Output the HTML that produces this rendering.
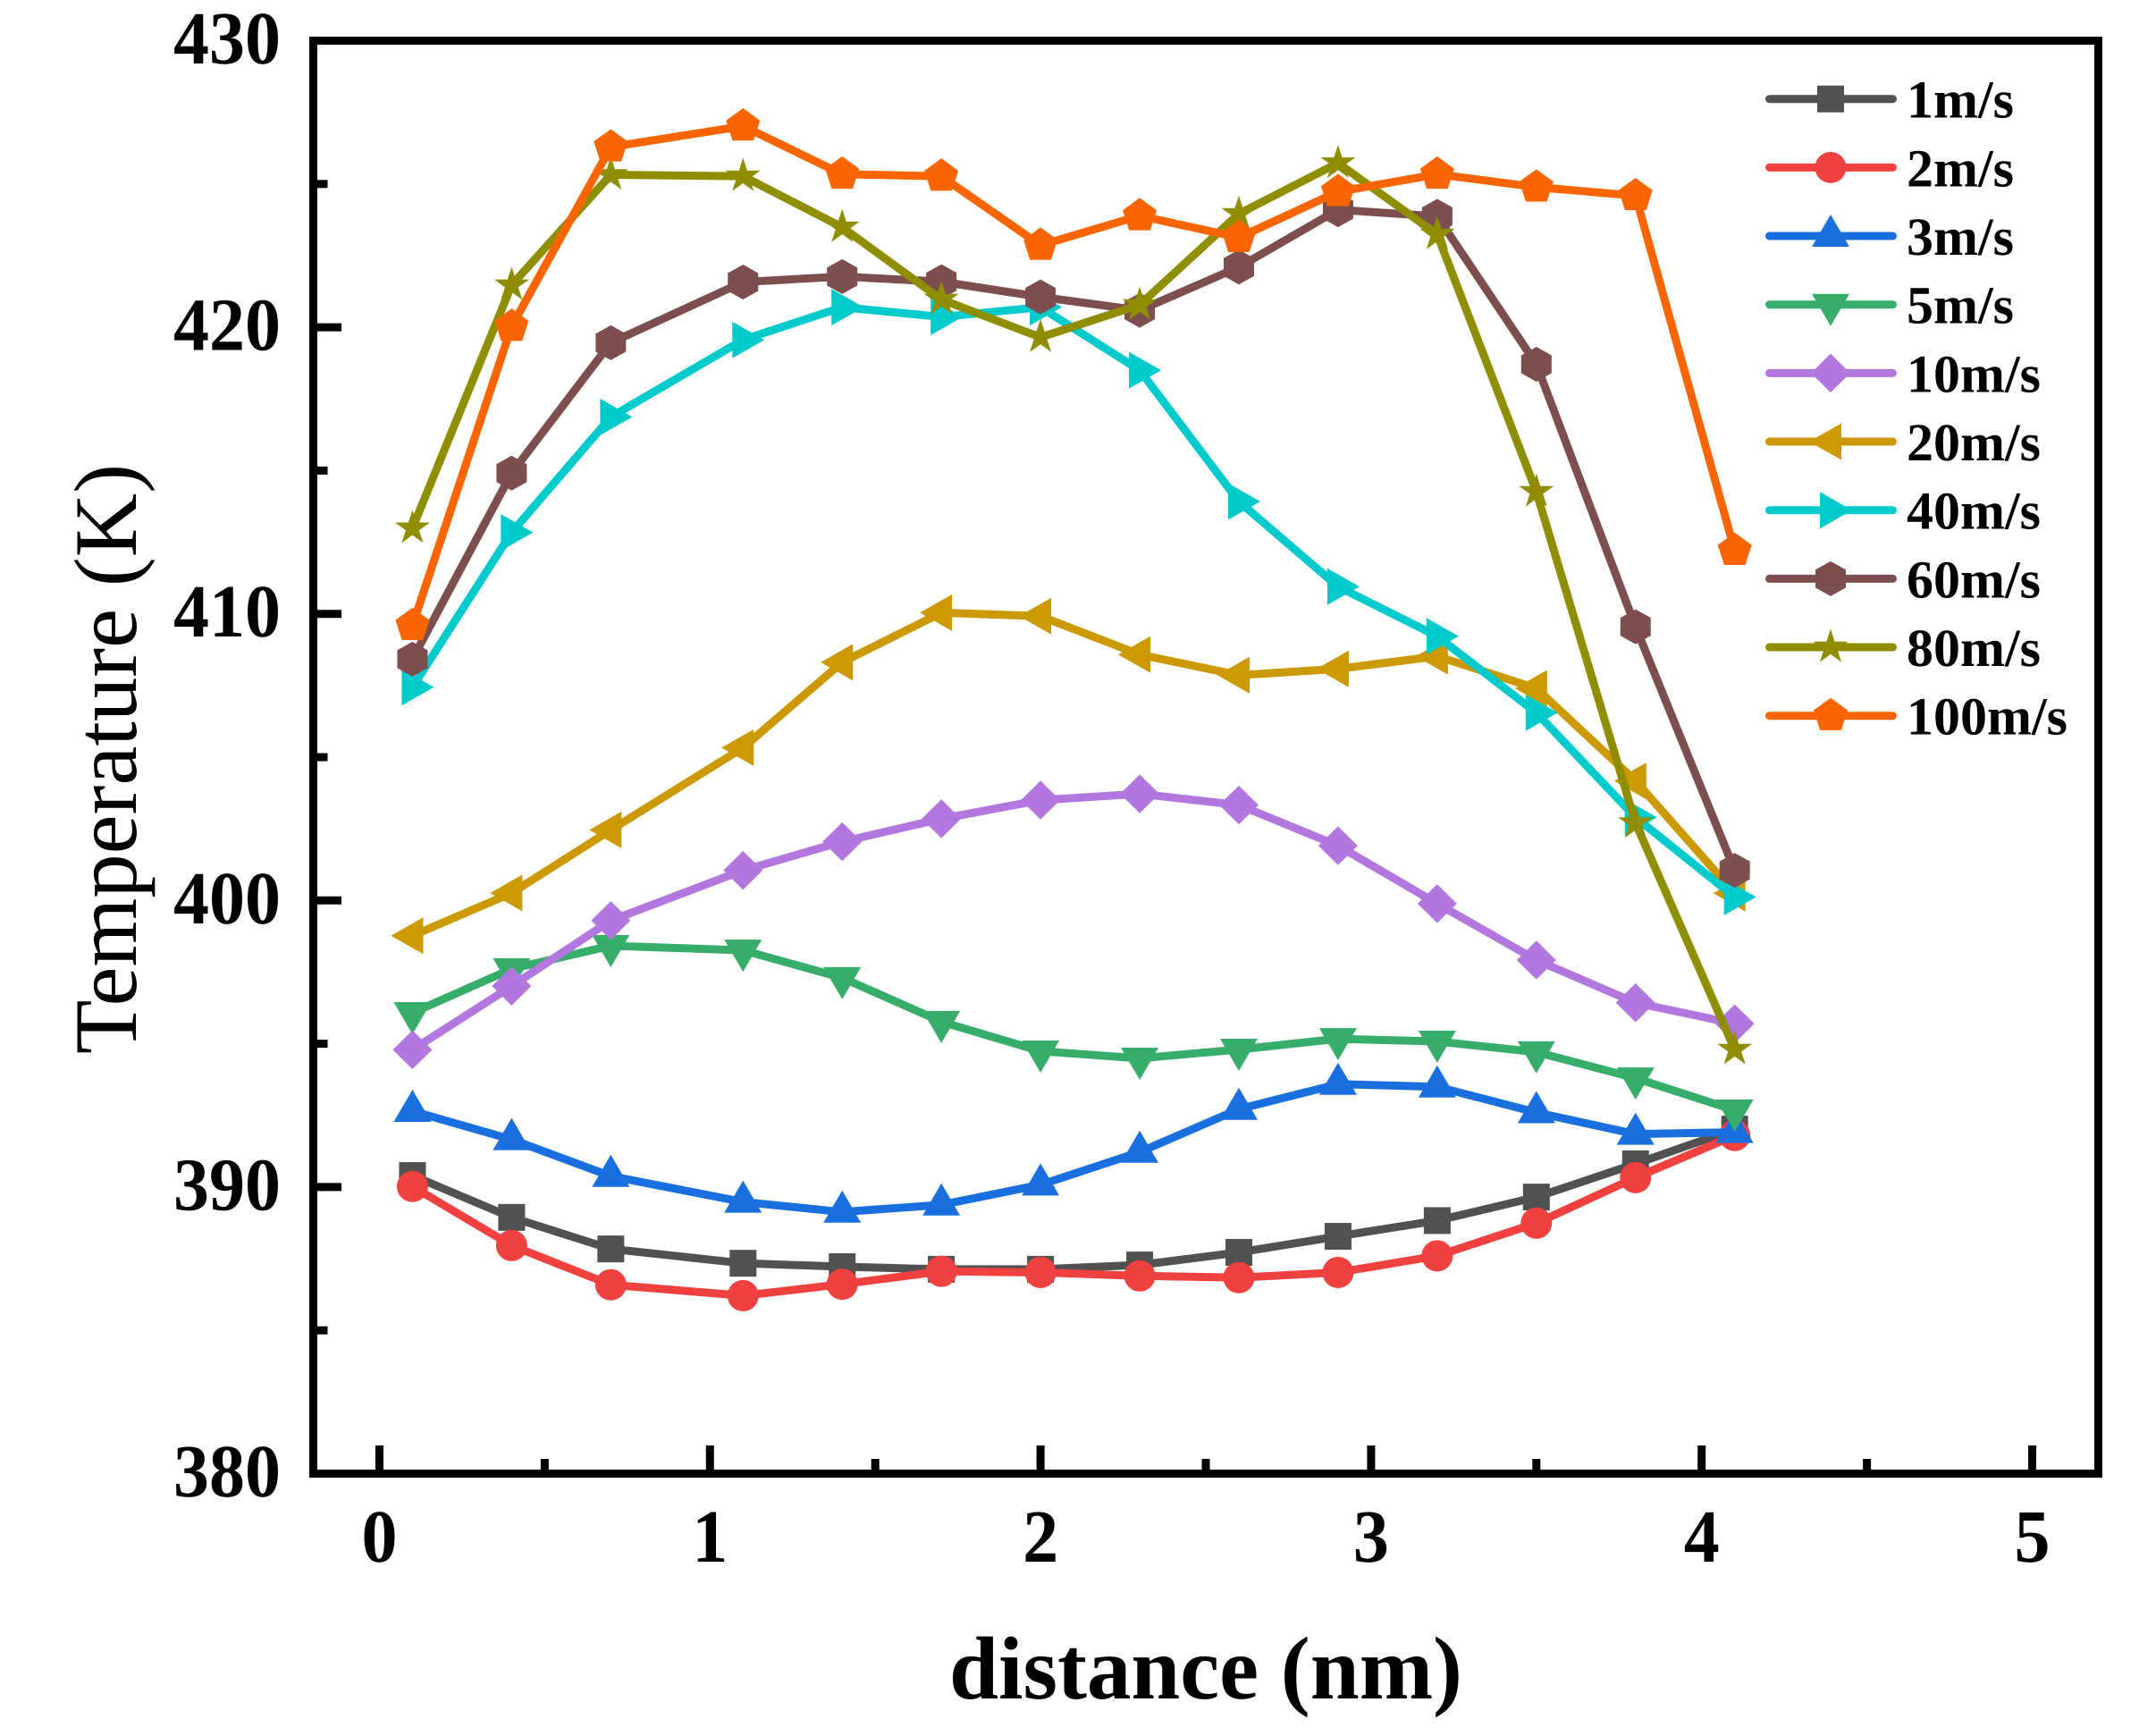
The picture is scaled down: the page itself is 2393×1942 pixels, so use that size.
<!DOCTYPE html>
<html lang="en">
<head>
<meta charset="utf-8">
<title>Temperature vs distance</title>
<style>
  html, body { margin: 0; padding: 0; background: #ffffff; }
  svg { display: block; }
  text { font-family: "Liberation Serif", "Times New Roman", serif; fill: #000000; text-rendering: geometricPrecision; }
</style>
</head>
<body>
<svg id="chart" xmlns="http://www.w3.org/2000/svg" width="2393" height="1942" viewBox="0 0 2393 1942">
  <rect x="0" y="0" width="2393" height="1942" fill="#ffffff"/>
  <g id="ticks"></g>
  <g id="series"></g>
  <rect x="350.5" y="45.5" width="1997" height="1603" fill="none" stroke="#000000" stroke-width="9"/>
  <g id="legend"></g>
  <text x="1349" y="1900" font-size="100" font-weight="bold" text-anchor="middle" textLength="574" lengthAdjust="spacingAndGlyphs">distance (nm)</text>
  <text transform="translate(152 1179) rotate(-90)" x="0" y="0" font-size="100" textLength="660" lengthAdjust="spacingAndGlyphs">Temperature (K)</text>
</svg>
<script>
const distances = [0.1, 0.4, 0.7, 1.1, 1.4, 1.7, 2.0, 2.3, 2.6, 2.9, 3.2, 3.5, 3.8, 4.1];
const speed1 = [390.40, 388.94, 387.84, 387.34, 387.22, 387.13, 387.13, 387.28, 387.72, 388.28, 388.83, 389.65, 390.81, 392.02];
const speed2 = [390.02, 387.96, 386.59, 386.21, 386.61, 387.06, 387.02, 386.90, 386.84, 387.02, 387.60, 388.74, 390.33, 391.80];
const speed3 = [392.65, 391.66, 390.38, 389.48, 389.13, 389.38, 390.08, 391.22, 392.72, 393.59, 393.50, 392.60, 391.85, 391.91];
const speed5 = [396.08, 397.61, 398.42, 398.26, 397.30, 395.77, 394.74, 394.49, 394.80, 395.17, 395.08, 394.71, 393.80, 392.68];
const speed10 = [394.79, 397.01, 399.30, 401.05, 402.05, 402.85, 403.50, 403.72, 403.33, 401.91, 399.89, 397.92, 396.43, 395.70];
const speed20 = [398.77, 400.26, 402.46, 405.33, 408.31, 410.04, 409.92, 408.58, 407.86, 408.08, 408.52, 407.40, 404.17, 400.25];
const speed40 = [407.44, 412.84, 416.87, 419.56, 420.70, 420.36, 420.70, 418.50, 413.92, 410.95, 409.22, 406.55, 402.90, 400.12];
const speed60 = [408.42, 414.91, 419.46, 421.58, 421.77, 421.59, 421.06, 420.59, 422.10, 424.10, 423.87, 418.71, 409.55, 401.05];
const speed80 = [412.99, 421.47, 425.32, 425.27, 423.49, 420.97, 419.65, 420.78, 423.96, 425.73, 423.24, 414.26, 402.70, 394.80];
const speed100 = [409.59, 420.03, 426.29, 427.02, 425.34, 425.27, 422.86, 423.89, 423.13, 424.73, 425.34, 424.89, 424.59, 412.21];
const seriesLabels = ["1m/s", "2m/s", "3m/s", "5m/s", "10m/s", "20m/s", "40m/s", "60m/s", "80m/s", "100m/s"];
const xTickLabels = ["0", "1", "2", "3", "4", "5"];
const xMinorTicks = [0.5, 1.5, 2.5, 3.5, 4.5];
const yTickLabels = ["380", "390", "400", "410", "420", "430"];
const yMinorTicks = [385, 395, 405, 415, 425];

const allSeries = [speed1, speed2, speed3, speed5, speed10, speed20, speed40, speed60, speed80, speed100];
const palette = ["#515151", "#F14040", "#1A6FDF", "#37AD6B", "#B177DE", "#CC9900", "#00CBCC", "#7D4E4E", "#8E8E00", "#FB6501"];
const shapes = ["square", "circle", "up", "down", "diamond", "left", "right", "hexagon", "star", "pentagon"];

const SVG_NS = "http://www.w3.org/2000/svg";
const xScale = function (v) { return 350.5 + (v - (-0.2)) / (5.2 - (-0.2)) * (2347.5 - 350.5); };
const yScale = function (v) { return 1648.5 - (v - 380) / (430 - 380) * (1648.5 - 45.5); };

function make(tag, parent) {
  const el = document.createElementNS(SVG_NS, tag);
  parent.appendChild(el);
  return el;
}
function polygonPoints(cx, cy, offsets) {
  return offsets.map(function (p) { return (cx + p[0]).toFixed(2) + "," + (cy + p[1]).toFixed(2); }).join(" ");
}
function starOffsets(outer, inner) {
  const pts = [];
  for (let i = 0; i < 10; i++) {
    const r = i % 2 === 0 ? outer : inner;
    const a = -Math.PI / 2 + i * Math.PI / 5;
    pts.push([r * Math.cos(a), r * Math.sin(a)]);
  }
  return pts;
}
const outlines = {
  up: [[0, -24], [21, 12], [-21, 12]],
  down: [[0, 24], [21, -12], [-21, -12]],
  left: [[-24, 0], [12, -20.5], [12, 20.5]],
  right: [[24, 0], [-12, -20.5], [-12, 20.5]],
  diamond: [[0, -21.7], [22, 0], [0, 21.7], [-22, 0]],
  hexagon: [[0, -19.5], [17, -10], [17, 10], [0, 19.5], [-17, 10], [-17, -10]],
  pentagon: [[0, -20], [19, -6.2], [11.8, 16.2], [-11.8, 16.2], [-19, -6.2]],
  star: starOffsets(20.5, 7.8)
};
function drawMarker(parent, shape, cx, cy, color) {
  let el;
  if (shape === "square") {
    el = make("rect", parent);
    el.setAttribute("x", cx - 15);
    el.setAttribute("y", cy - 15);
    el.setAttribute("width", 30);
    el.setAttribute("height", 30);
  } else if (shape === "circle") {
    el = make("circle", parent);
    el.setAttribute("cx", cx);
    el.setAttribute("cy", cy);
    el.setAttribute("r", 17.5);
  } else {
    el = make("polygon", parent);
    el.setAttribute("points", polygonPoints(cx, cy, outlines[shape]));
  }
  el.setAttribute("fill", color);
  return el;
}

const ticksGroup = document.getElementById("ticks");
const seriesGroup = document.getElementById("series");
const legendGroup = document.getElementById("legend");

xTickLabels.forEach(function (label) {
  const x = xScale(Number(label));
  const tick = make("line", ticksGroup);
  
  
  tick.setAttribute("x1", x);
  tick.setAttribute("x2", x);
  tick.setAttribute("y1", 1648);
  tick.setAttribute("y2", 1617);
  tick.setAttribute("stroke", "#000000");
  tick.setAttribute("stroke-width", 9);
  const text = make("text", ticksGroup);
  
  
  text.setAttribute("x", x);
  text.setAttribute("y", 1747);
  text.setAttribute("font-size", 84);
  text.setAttribute("font-weight", "bold");
  text.setAttribute("text-anchor", "middle");
  text.setAttribute("textLength", 40);
  text.setAttribute("lengthAdjust", "spacingAndGlyphs");
  text.textContent = label;
});
xMinorTicks.forEach(function (value) {
  const x = xScale(value);
  const tick = make("line", ticksGroup);
  
  
  tick.setAttribute("x1", x);
  tick.setAttribute("x2", x);
  tick.setAttribute("y1", 1648);
  tick.setAttribute("y2", 1632);
  tick.setAttribute("stroke", "#000000");
  tick.setAttribute("stroke-width", 9);
});
yTickLabels.forEach(function (label) {
  const y = yScale(Number(label));
  const tick = make("line", ticksGroup);
  
  
  tick.setAttribute("x1", 351);
  tick.setAttribute("x2", 382);
  tick.setAttribute("y1", y);
  tick.setAttribute("y2", y);
  tick.setAttribute("stroke", "#000000");
  tick.setAttribute("stroke-width", 9);
  const text = make("text", ticksGroup);
  
  
  text.setAttribute("x", 314);
  text.setAttribute("y", y + 25.5);
  text.setAttribute("font-size", 84);
  text.setAttribute("font-weight", "bold");
  text.setAttribute("text-anchor", "end");
  text.setAttribute("textLength", 120);
  text.setAttribute("lengthAdjust", "spacingAndGlyphs");
  text.textContent = label;
});
yMinorTicks.forEach(function (value) {
  const y = yScale(value);
  const tick = make("line", ticksGroup);
  
  
  tick.setAttribute("x1", 351);
  tick.setAttribute("x2", 366.5);
  tick.setAttribute("y1", y);
  tick.setAttribute("y2", y);
  tick.setAttribute("stroke", "#000000");
  tick.setAttribute("stroke-width", 9);
});

allSeries.forEach(function (values, s) {
  const color = palette[s];
  const group = make("g", seriesGroup);
  
  
  const line = make("polyline", group);
  
  
  line.setAttribute("points", values.map(function (v, i) {
    return xScale(distances[i]).toFixed(2) + "," + yScale(v).toFixed(2);
  }).join(" "));
  line.setAttribute("fill", "none");
  line.setAttribute("stroke", color);
  line.setAttribute("stroke-width", 9);
  line.setAttribute("stroke-linejoin", "round");
  line.setAttribute("stroke-linecap", "round");
  values.forEach(function (v, i) {
    const marker = drawMarker(group, shapes[s], xScale(distances[i]), yScale(v), color);
    
    
  });

  const rowY = 110.7 + s * 76.67;
  const entry = make("g", legendGroup);
  
  
  const sample = make("line", entry);
  
  
  sample.setAttribute("x1", 1979.5);
  sample.setAttribute("x2", 2117.5);
  sample.setAttribute("y1", rowY);
  sample.setAttribute("y2", rowY);
  sample.setAttribute("stroke", color);
  sample.setAttribute("stroke-width", 9);
  sample.setAttribute("stroke-linecap", "round");
  const keyMarker = drawMarker(entry, shapes[s], 2048, rowY, color);
  
  
  const label = make("text", entry);
  
  
  label.setAttribute("x", 2133);
  label.setAttribute("y", rowY + 21);
  label.setAttribute("font-size", 60);
  label.setAttribute("font-weight", "bold");
  label.textContent = seriesLabels[s];
});
</script>
</body>
</html>
